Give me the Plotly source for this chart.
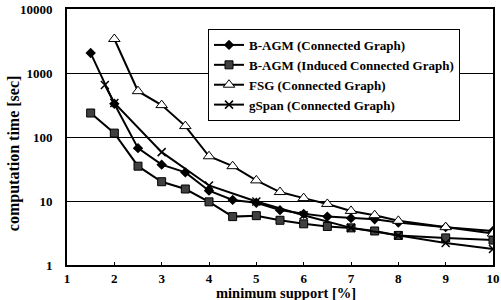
import plotly.graph_objects as go

x_bagm = [1.5, 2, 2.5, 3, 3.5, 4, 4.5, 5, 5.5, 6, 6.5, 7, 7.5, 8, 9, 10]
y_bagm_conn = [2050, 330, 67, 37, 28, 14.5, 10.4, 9.4, 7.2, 6.3, 5.7, 5.4, 5.2, 4.6, 3.9, 3.4]
y_bagm_ind = [237, 115, 35, 20, 15.4, 9.7, 5.7, 5.9, 5.0, 4.4, 4.0, 3.8, 3.4, 2.9, 2.65, 2.45]

x_fsg = [2, 2.5, 3, 3.5, 4, 4.5, 5, 5.5, 6, 6.5, 7, 7.5, 8, 9, 10]
y_fsg = [3400, 520, 315, 148, 50, 35, 21, 13.8, 11.1, 9.0, 7.0, 6.0, 4.9, 3.9, 3.1]

x_gspan = [1.8, 2, 3, 4, 5, 6, 7, 8, 9, 10]
y_gspan = [650, 340, 58, 17.5, 9.8, 6.0, 3.8, 2.9, 2.2, 1.78]

names = ["B-AGM (Connected Graph)", "B-AGM (Induced Connected Graph)",
         "FSG (Connected Graph)", "gSpan (Connected Graph)"]

x_ticks = [1, 2, 3, 4, 5, 6, 7, 8, 9, 10]
y_ticks = [1, 10, 100, 1000, 10000]

FONT = "Liberation Serif, Times New Roman, serif"

fig = go.Figure()
fig.add_trace(go.Scatter(x=x_bagm, y=y_bagm_conn, name=names[0], mode="lines+markers",
                         line=dict(color="black", width=2),
                         marker=dict(symbol="diamond", size=8, color="black")))
fig.add_trace(go.Scatter(x=x_bagm, y=y_bagm_ind, name=names[1], mode="lines+markers",
                         line=dict(color="black", width=2),
                         marker=dict(symbol="square", size=8, color="#404040",
                                     line=dict(color="black", width=1))))
fig.add_trace(go.Scatter(x=x_fsg, y=y_fsg, name=names[2], mode="lines+markers",
                         line=dict(color="black", width=2),
                         marker=dict(symbol="triangle-up", size=10, color="white",
                                     line=dict(color="black", width=1))))
fig.add_trace(go.Scatter(x=x_gspan, y=y_gspan, name=names[3], mode="lines+markers",
                         line=dict(color="black", width=2),
                         marker=dict(symbol="x-thin", size=8, color="black",
                                     line=dict(color="black", width=1.5))))

fig.update_layout(
    template="none",
    width=501, height=300,
    margin=dict(l=67, r=8, t=9, b=35, pad=0),
    paper_bgcolor="white", plot_bgcolor="white",
    font=dict(family=FONT, size=13, color="black", weight=700),
    showlegend=True,
    legend=dict(x=0.331, y=0.922, xanchor="left", yanchor="top",
                bgcolor="white", bordercolor="black", borderwidth=1,
                font=dict(family=FONT, size=13, color="black", weight=700),
                itemwidth=30, tracegroupgap=0),
    annotations=[
        dict(text="<b>minimum support [%]</b>", xref="paper", yref="paper",
             x=0.514, y=-0.11, xanchor="center", yanchor="middle", showarrow=False,
             font=dict(family=FONT, size=14.5)),
        dict(text="<b>computation time [sec]</b>", xref="paper", yref="paper",
             x=-0.124, y=0.4375, xanchor="center", yanchor="middle", showarrow=False,
             textangle=-90, font=dict(family=FONT, size=16)),
    ],
)
fig.update_xaxes(range=[1, 10], tickvals=x_ticks,
                 ticktext=["<b>%d</b>" % v for v in x_ticks],
                 automargin=False, showgrid=False, zeroline=False,
                 showline=True, linecolor="black", linewidth=2, mirror=True,
                 ticks="inside", ticklen=3, tickcolor="black", tickwidth=1,
                 tickfont=dict(family=FONT, size=13))
fig.update_yaxes(type="log", range=[0, 4], tickvals=y_ticks,
                 ticktext=["<b>%d</b>" % v for v in y_ticks],
                 automargin=False, showgrid=True, gridcolor="black", gridwidth=1,
                 zeroline=False,
                 showline=True, linecolor="black", linewidth=2, mirror=True,
                 ticks="", ticklabelstandoff=10,
                 tickfont=dict(family=FONT, size=13))

fig.write_html("out.html", config={"displayModeBar": False},
               post_script="document.body.style.margin='0';")
